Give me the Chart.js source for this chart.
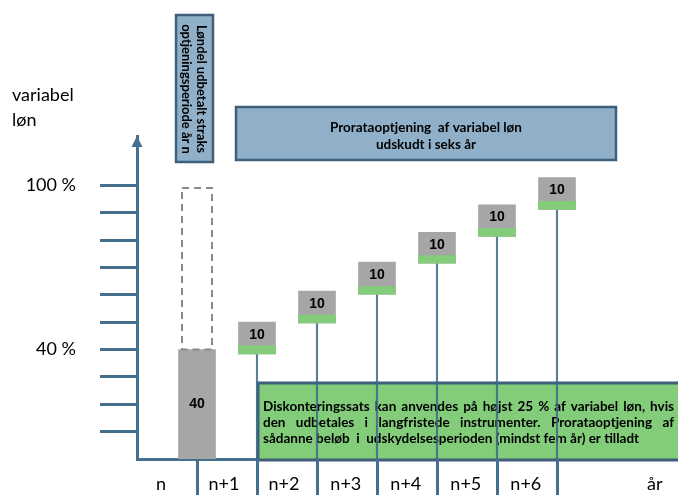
<!DOCTYPE html>
<html>
<head>
<meta charset="utf-8">
<script src="https://cdn.jsdelivr.net/npm/chart.js@4.4.1/dist/chart.umd.min.js"></script>
<style>
  html, body { margin: 0; padding: 0; background: #ffffff; }
  #wrap { width: 678px; height: 495px; }
</style>
</head>
<body>
<div id="wrap"><canvas id="chart"></canvas></div>
<script>
// x-akse (år)
const xTickPos = [0.4, 1.45, 2.45, 3.48, 4.48, 5.48, 6.48, 8.63];
const xTickLabels = ['n', 'n+1', 'n+2', 'n+3', 'n+4', 'n+5', 'n+6', 'år'];
const yearDividers = [1, 2, 3, 4, 5, 6, 7];

// y-akse (variabel løn i %)
const yTickValues = [10, 20, 30, 40, 50, 60, 70, 80, 90, 100];
const yTickText = { 40: '40 %', 100: '100 %' };

// løndel udbetalt straks i år n
const upfrontYear = [1];
const upfrontValue = [40];
const fullPayTop = [99];

// prorataoptjening n+1 .. n+6
const deferredYears = [2, 3, 4, 5, 6, 7];
const deferredLabels = [10, 10, 10, 10, 10, 10];
const deferredBottom = [38.4, 49.7, 60.2, 71.5, 81.3, 91.2];
const deferredGreenTop = [41.3, 52.6, 63.0, 74.3, 84.2, 94.1];
const deferredTop = [50.0, 61.3, 71.9, 82.8, 92.9, 102.8];

const AXIS_BLUE = '#44708f';
const BOX_BORDER = '#3f5f7b';
const BLUE_FILL = '#8fb0c8';
const GREEN = '#82cc7a';
const GRAY = '#a6a6a6';
const FONT = "Lato, 'Open Sans', sans-serif";

const greenText = [
  'Diskonteringssats kan anvendes på højst 25 % af variabel løn, hvis',
  'den udbetales i langfristede instrumenter. Prorataoptjening af',
  'sådanne beløb  i  udskydelsesperioden (mindst fem år) er tilladt'
];

// fordel ordene jævnt mellem x0 og x1 (lige margener)
function justifyLine(ctx, text, x0, x1, y) {
  const words = text.split(' ').filter(w => w.length);
  const total = words.reduce((s, w) => s + ctx.measureText(w).width, 0);
  const gap = Math.max(ctx.measureText(' ').width, (x1 - x0 - total) / (words.length - 1));
  let cx = x0;
  words.forEach(w => {
    ctx.fillText(w, cx, y);
    cx += ctx.measureText(w).width + gap;
  });
}

function box(ctx, x, y, w, h, fill, lw) {
  ctx.fillStyle = fill;
  ctx.fillRect(x, y, w, h);
  ctx.strokeStyle = BOX_BORDER;
  ctx.lineWidth = lw;
  ctx.strokeRect(x, y, w, h);
}

const diagramPlugin = {
  id: 'diagram',
  beforeDatasetsDraw(chart) {
    const ctx = chart.ctx;
    ctx.save();
    // grøn tekstboks
    box(ctx, 258, 383, 430, 77, GREEN, 3);
    ctx.fillStyle = '#000';
    ctx.font = "bold 13.5px " + FONT;
    ctx.textBaseline = 'middle';
    ctx.textAlign = 'left';
    justifyLine(ctx, greenText[0], 263, 674, 407);
    justifyLine(ctx, greenText[1], 263, 674, 423);
    ctx.fillText(greenText[2], 263, 439);
    ctx.restore();
  },
  afterDatasetsDraw(chart) {
    const ctx = chart.ctx;
    ctx.save();
    // stiplet ramme (fuld variabel løn)
    const outline = chart.getDatasetMeta(4).data[0];
    ctx.setLineDash([7, 5]);
    ctx.strokeStyle = '#8a8a8a';
    ctx.lineWidth = 2;
    ctx.strokeRect(outline.x - outline.width / 2, outline.y, outline.width, outline.base - outline.y);
    ctx.setLineDash([]);

    ctx.fillStyle = '#000';
    ctx.font = "bold 14px Arial, 'Liberation Sans', sans-serif";
    ctx.textAlign = 'center';
    ctx.textBaseline = 'middle';
    const up = chart.getDatasetMeta(3).data[0];
    ctx.fillText(String(upfrontValue[0]), up.x, (up.y + up.base) / 2);

    const yScale = chart.scales.y;
    chart.getDatasetMeta(1).data.forEach((bar, i) => {
      const g = yScale.getPixelForValue(deferredGreenTop[i]);
      ctx.fillText(String(deferredLabels[i]), bar.x, (bar.y + g) / 2 + 1);
    });
    ctx.restore();
  },
  afterDraw(chart) {
    const ctx = chart.ctx;
    const { left, top, bottom } = chart.chartArea;
    const x = chart.scales.x;
    ctx.save();

    // pil på y-aksen
    ctx.fillStyle = AXIS_BLUE;
    ctx.beginPath();
    ctx.moveTo(left, top);
    ctx.lineTo(left - 5.5, top + 11);
    ctx.lineTo(left + 5.5, top + 11);
    ctx.closePath();
    ctx.fill();

    // skillelinjer under x-aksen
    ctx.strokeStyle = AXIS_BLUE;
    ctx.lineWidth = 3;
    yearDividers.forEach(v => {
      const px = Math.round(x.getPixelForValue(v)) + 0.5;
      ctx.beginPath();
      ctx.moveTo(px, bottom);
      ctx.lineTo(px, 495);
      ctx.stroke();
    });

    // aksetitel
    ctx.fillStyle = '#000';
    ctx.font = "18px " + FONT;
    ctx.textAlign = 'left';
    ctx.textBaseline = 'middle';
    ctx.fillText('variabel', 12, 95);
    ctx.fillText('løn', 12, 120);

    // øverste boks
    box(ctx, 236, 107, 380, 53, BLUE_FILL, 2.5);
    ctx.fillStyle = '#000';
    ctx.font = "bold 13.5px " + FONT;
    ctx.textAlign = 'center';
    ctx.fillText('Prorataoptjening  af variabel løn', 426, 128);
    ctx.fillText('udskudt i seks år', 426, 145);

    // lodret boks
    box(ctx, 176, 15, 37, 147, BLUE_FILL, 2.5);
    ctx.save();
    ctx.translate(194, 89);
    ctx.rotate(Math.PI / 2);
    ctx.fillStyle = '#000';
    ctx.font = "bold 13px " + FONT;
    ctx.textAlign = 'center';
    ctx.textBaseline = 'middle';
    ctx.fillText('Løndel udbetalt straks', 0, -7.5);
    ctx.fillText('optjeningsperiode år n', 0, 8);
    ctx.restore();

    ctx.restore();
  }
};

const toXY = (xs, lo, hi) => xs.map((v, i) => ({ x: v, y: [lo[i], hi[i]] }));

new Chart(document.getElementById('chart'), {
  type: 'bar',
  data: {
    datasets: [
      {
        label: 'Grøn',
        data: toXY(deferredYears, deferredBottom, deferredGreenTop),
        backgroundColor: GREEN,
        barThickness: 37,
        grouped: false
      },
      {
        label: 'Prorata',
        data: toXY(deferredYears, deferredBottom, deferredTop),
        backgroundColor: GRAY,
        barThickness: 37,
        grouped: false
      },
      {
        label: 'Stilk',
        data: toXY(deferredYears, deferredYears.map(() => 0), deferredBottom),
        backgroundColor: 'rgba(60,105,135,0.85)',
        barThickness: 1.5,
        grouped: false
      },
      {
        label: 'Straks',
        data: toXY(upfrontYear, [0], upfrontValue),
        backgroundColor: GRAY,
        barThickness: 37,
        grouped: false
      },
      {
        label: 'Fuld',
        data: toXY(upfrontYear, upfrontValue, fullPayTop),
        backgroundColor: 'rgba(0,0,0,0)',
        barThickness: 30,
        grouped: false
      }
    ]
  },
  options: {
    responsive: true,
    maintainAspectRatio: false,
    animation: false,
    layout: { padding: { top: 136, right: 1, left: 0, bottom: 0 } },
    plugins: {
      legend: { display: false },
      tooltip: { enabled: false }
    },
    scales: {
      x: {
        type: 'linear',
        min: 0,
        max: 9,
        offset: false,
        afterFit: (s) => { s.height = 36; },
        afterBuildTicks: (s) => { s.ticks = xTickPos.map(v => ({ value: v })); },
        grid: { display: false },
        border: { display: true, color: AXIS_BLUE, width: 3 },
        ticks: {
          autoSkip: false,
          maxRotation: 0,
          padding: 6,
          color: '#000',
          font: { family: FONT, size: 18 },
          callback: (v, i) => xTickLabels[i]
        }
      },
      y: {
        min: 0,
        max: 118,
        afterFit: (s) => { s.width = 137; },
        afterBuildTicks: (s) => { s.ticks = yTickValues.map(v => ({ value: v })); },
        grid: {
          drawOnChartArea: false,
          drawTicks: true,
          tickLength: 37,
          lineWidth: 3,
          color: AXIS_BLUE
        },
        border: { display: true, color: AXIS_BLUE, width: 3 },
        ticks: {
          padding: 24,
          color: '#000',
          font: { family: FONT, size: 18 },
          callback: (v) => yTickText[v] || ''
        }
      }
    }
  },
  plugins: [diagramPlugin]
});
</script>
</body>
</html>
